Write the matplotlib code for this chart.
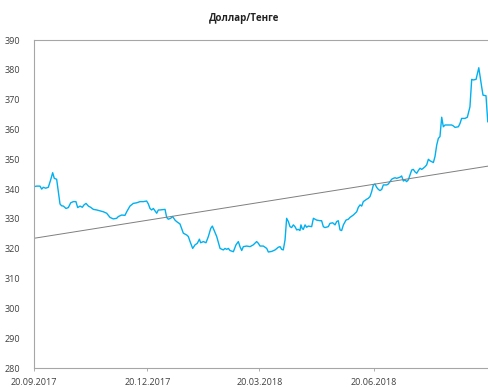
import matplotlib
matplotlib.use("Agg")
import matplotlib.pyplot as plt

# Days since 20.09.2017 and USD/KZT rate
days = [0, 2.1, 4.8, 6.2, 7.5, 9.4, 11.5, 13.4, 15.0, 16.3, 18.2, 19.6, 20.9, 22.2, 23.6, 25.7,
        27.6, 29.5, 31.6, 33.7, 35.1, 37.0, 38.8, 40.2, 41.8, 43.7, 45.5, 47.7, 50.4, 53.0,
        55.7, 58.4, 61.1, 63.7, 66.4, 67.8, 70.4, 73.1, 74.5, 77.1, 79.8, 82.5, 85.2, 87.9,
        90.5, 91.9, 93.2, 94.5, 95.9, 97.2, 98.6, 99.9, 101.2, 105.3, 106.6, 107.9, 109.8,
        111.4, 113.3, 114.6, 117.3, 120.0, 122.7, 124.0, 125.4, 127.5, 129.4, 131.2, 132.9,
        133.9, 136.1, 138.2, 140.1, 142.0, 143.3, 144.6, 146.8, 149.5, 152.1, 153.5, 154.8,
        156.2, 157.5, 160.2, 162.3, 164.2, 165.5, 166.9, 168.2, 170.9, 173.6, 176.2, 178.9,
        180.3, 181.6, 184.3, 187.0, 188.3, 191.0, 193.7, 196.3, 197.7, 199.0, 200.3, 201.7,
        203.0, 204.4, 205.7, 207.0, 208.4, 209.7, 211.1, 212.4, 213.7, 214.5, 215.6, 216.4,
        217.8, 219.1, 220.4, 223.1, 224.5, 225.8, 227.1, 229.8, 231.1, 232.5, 233.8, 236.5,
        237.8, 240.0, 241.9, 243.2, 244.5, 245.9, 247.2, 248.6, 250.7, 252.6, 253.9, 256.6,
        259.3, 260.6, 262.0, 263.3, 264.6, 267.3, 268.6, 270.0, 271.3, 272.7, 274.0, 275.3,
        276.7, 278.0, 279.4, 280.7, 283.4, 284.7, 286.1, 287.4, 288.7, 290.1, 291.4, 292.8,
        294.1, 295.4, 296.8, 298.1, 299.4, 300.8, 302.1, 303.5, 304.8, 306.1, 307.5, 308.8,
        310.2, 311.5, 312.8, 314.2, 315.5, 316.9, 318.2, 319.5, 320.9, 322.2, 323.6, 324.9,
        326.2, 327.6, 328.9, 330.3, 332.9, 335.6, 336.9, 338.3, 341.0, 342.3, 343.6, 346.3,
        348.2, 350.3, 351.7, 353.0, 355.2, 357.4, 359.7, 360.8, 363.2, 364.6]
rates = [340.8, 341.0, 341.0, 340.0, 340.6, 340.3, 340.6, 343.1, 345.5, 343.6, 343.3, 339.1,
         335.0, 334.4, 334.3, 333.5, 333.8, 335.4, 335.8, 335.8, 333.8, 334.3, 333.9, 334.7,
         335.2, 334.3, 333.9, 333.2, 333.0, 332.7, 332.4, 331.9, 330.5, 330.0, 330.2, 330.8,
         331.3, 331.2, 332.4, 334.3, 335.2, 335.4, 335.8, 335.8, 336.0, 335.0, 333.5, 333.0,
         333.5, 332.7, 331.9, 333.0, 333.0, 333.2, 330.5, 329.9, 330.2, 330.8, 329.6, 329.1,
         328.3, 325.2, 324.6, 324.1, 322.4, 320.1, 321.3, 321.8, 323.2, 322.0, 322.4, 322.0,
         324.1, 326.8, 327.6, 326.3, 324.1, 320.1, 319.6, 320.1, 319.8, 320.1, 319.4, 319.0,
         321.3, 322.4, 320.7, 319.4, 320.7, 320.9, 320.7, 321.3, 322.4, 321.8, 320.9, 320.9,
         320.1, 318.9, 319.1, 319.6, 320.5, 320.7, 319.8, 319.6, 322.9, 330.2, 329.1, 327.4,
         327.1, 328.0, 327.4, 326.3, 326.5, 326.1, 328.0, 326.7, 326.5, 328.0, 327.2, 327.6,
         327.4, 330.2, 329.9, 329.6, 329.4, 329.4, 327.4, 327.1, 327.4, 328.5, 328.7, 328.0,
         329.1, 329.4, 326.3, 326.1, 328.0, 329.6, 329.9, 330.5, 331.3, 332.4, 333.9, 334.7,
         334.3, 335.8, 336.6, 336.9, 337.5, 339.1, 341.4, 341.7, 340.6, 339.9, 339.5, 339.9,
         341.4, 341.4, 341.7, 342.5, 343.3, 343.6, 343.8, 343.6, 343.8, 344.0, 344.4, 342.7,
         343.1, 342.5, 343.1, 344.7, 346.4, 346.6, 345.8, 345.3, 346.2, 347.0, 346.6, 347.0,
         347.5, 348.1, 350.0, 349.5, 349.2, 348.9, 350.9, 354.8, 357.0, 357.6, 364.1, 360.9,
         361.5, 361.5, 361.5, 361.2, 360.7, 360.9, 362.0, 363.7, 363.7, 364.1, 367.6, 376.8,
         376.6, 376.8, 380.7, 374.3, 371.5, 371.3, 362.6]

# Linear trend endpoints
trend_days = [0, 364.8]
trend_values = [323.5, 347.7]

tick_days = [0, 91, 181, 273]
tick_labels = ["20.09.2017", "20.12.2017", "20.03.2018", "20.06.2018"]
y_ticks = list(range(280, 391, 10))

plt.rcParams['font.family'] = ['Open Sans', 'DejaVu Sans']

fig = plt.figure(figsize=(4.88, 3.88), dpi=100)
ax = fig.add_axes([34/488, 20/388, 1 - 34/488, 328/388])

ax.plot(days, rates, color="#00B0F0", linewidth=1.0)
ax.plot(trend_days, trend_values, color="#7f7f7f", linewidth=0.7)

ax.set_xlim(0, 364.8)
ax.set_ylim(280, 390)
ax.set_xticks(tick_days)
ax.set_xticklabels(tick_labels, fontsize=6.5, color="#404040")
ax.set_yticks(y_ticks)
ax.set_yticklabels([str(v) for v in y_ticks], fontsize=6.5, color="#404040")
ax.tick_params(axis='x', length=2, width=0.6, color="#a0a0a0", pad=5)
ax.tick_params(axis='y', length=0, pad=10)

for side in ['left', 'bottom', 'top']:
    ax.spines[side].set_color("#a6a6a6")
    ax.spines[side].set_linewidth(0.8)
ax.spines['right'].set_visible(False)

fig.text(0.5, 1 - 18/388, "Доллар/Тенге", ha='center', va='center',
         fontsize=7, fontweight='bold', color="#222222")

fig.savefig("out.png", dpi=100)
